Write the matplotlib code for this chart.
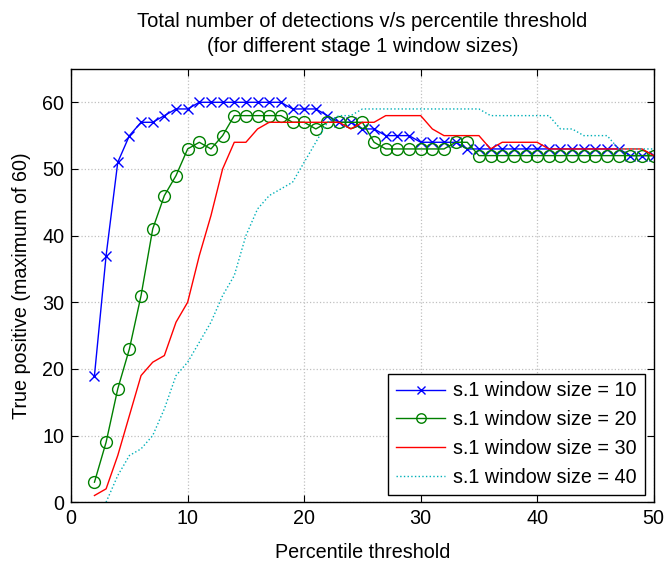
import numpy as np
import matplotlib
matplotlib.use('Agg')
import matplotlib.pyplot as plt

plt.rcParams['font.family'] = ['Liberation Sans', 'DejaVu Sans']

# percentile thresholds
x_10 = list(range(2, 51))
x_20 = list(range(2, 51))
x_30 = list(range(2, 51))
x_40 = list(range(3, 51))

# true positives for each stage 1 window size
tp_10 = [19, 37, 51, 55, 57, 57, 58, 59, 59,
         60, 60, 60, 60, 60, 60, 60, 60,
         59, 59, 59, 58, 57, 57, 56, 56, 55, 55, 55,
         54, 54, 54, 54,
         53, 53, 53, 53, 53, 53, 53, 53, 53, 53, 53, 53, 53, 53,
         52, 52, 52]
tp_20 = [3, 9, 17, 23, 31, 41, 46, 49, 53, 54, 53, 55,
         58, 58, 58, 58, 58, 57, 57, 56, 57, 57, 57, 57,
         54, 53, 53, 53, 53, 53, 53, 54, 54,
         52, 52, 52, 52, 52, 52, 52, 52, 52, 52, 52, 52, 52, 52, 52, 52]
tp_30 = [1, 2, 7, 13, 19, 21, 22, 27, 30, 37, 43, 50, 54, 54, 56,
         57, 57, 57, 57, 57, 57, 57, 56, 57, 57,
         58, 58, 58, 58, 56, 55, 55, 55, 55, 53,
         54, 54, 54, 54,
         53, 53, 53, 53, 53, 53, 53, 53, 53, 52]
tp_40 = [0, 4, 7, 8, 10, 14, 19, 21, 24, 27, 31, 34, 40, 44, 46, 47, 48,
         51, 54, 57, 58, 58,
         59, 59, 59, 59, 59, 59, 59, 59, 59, 59, 59,
         58, 58, 58, 58, 58, 58, 56, 56, 55, 55, 55,
         53, 53, 53, 53]

labels = ['s.1 window size = 10', 's.1 window size = 20',
          's.1 window size = 30', 's.1 window size = 40']

fs = 14.2

fig = plt.figure(figsize=(6.65, 5.7), dpi=100)
ax = fig.add_axes([0.107, 0.119, 0.876, 0.760])

ax.plot(x_10, tp_10, color='#0000ff', lw=1.0, marker='x', ms=6.5, mew=1.0, label=labels[0])
ax.plot(x_20, tp_20, color='#008000', lw=1.0, marker='o', ms=8.5, mfc='none', mew=1.0, label=labels[1])
ax.plot(x_30, tp_30, color='#ff0000', lw=1.0, label=labels[2])
ax.plot(x_40, tp_40, color='#00b0b8', lw=1.0, ls=':', label=labels[3])

ax.set_xlim(0, 50)
ax.set_ylim(0, 65)
ax.set_xticks(np.arange(0, 51, 10))
ax.set_yticks(np.arange(0, 61, 10))
ax.tick_params(direction='in', top=True, right=True, labelsize=fs, length=5, pad=5)
ax.grid(True, color='#c0c0c0', ls=':', lw=0.9)
for s in ax.spines.values():
    s.set_linewidth(1.0)

ax.set_xlabel('Percentile threshold', fontsize=fs, labelpad=11)
ax.set_ylabel('True positive (maximum of 60)', fontsize=fs, labelpad=8)
ax.set_title('Total number of detections v/s percentile threshold\n(for different stage 1 window sizes)',
             fontsize=14.5, pad=12, linespacing=1.45)

leg = ax.legend(loc='lower right', fontsize=fs, fancybox=False, edgecolor='black',
                framealpha=1, handlelength=2.5, borderpad=0.4, labelspacing=0.5,
                handletextpad=0.4, borderaxespad=0.3, markerscale=0.8,
                bbox_to_anchor=(0.995, 0.003))
leg.get_frame().set_linewidth(1.0)

fig.savefig('out.png', dpi=100)
